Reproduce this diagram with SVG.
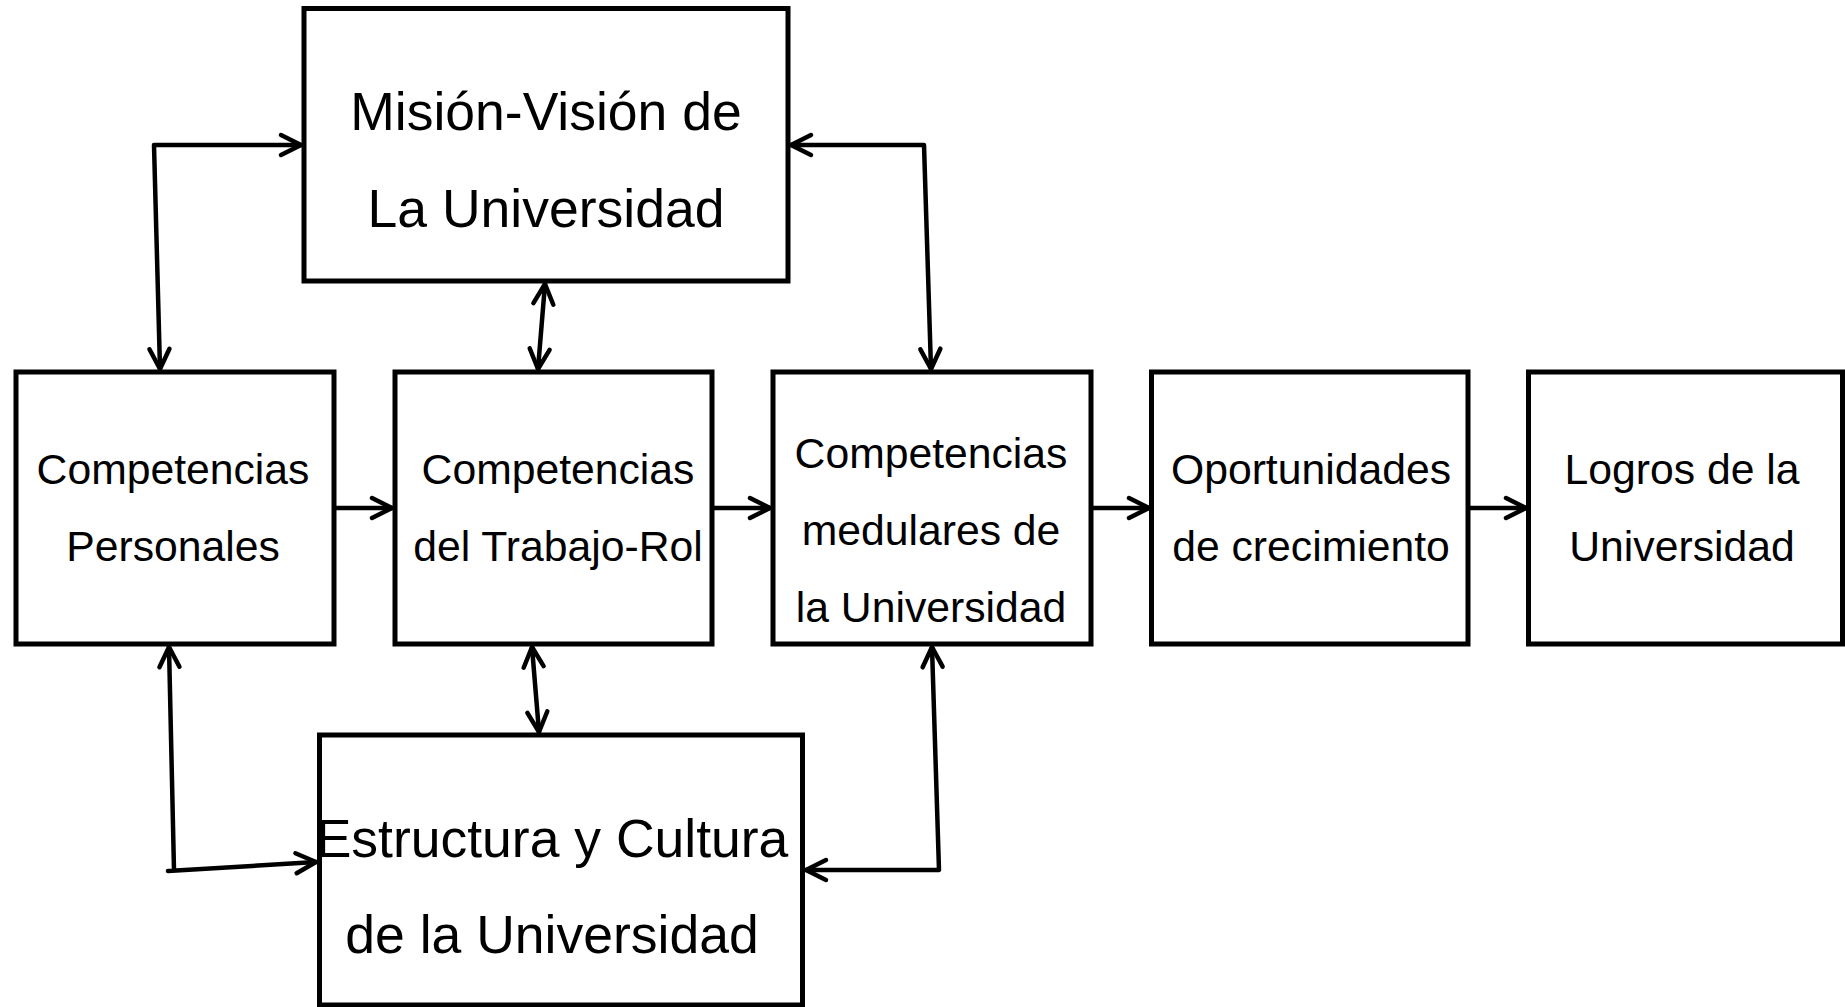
<svg xmlns="http://www.w3.org/2000/svg" width="1845" height="1007" viewBox="0 0 1845 1007">
<style>
.box{fill:#fff;stroke:#000;stroke-width:5}
.t{font-family:"Liberation Sans",Arial,sans-serif;fill:#000;text-anchor:middle}
.big{font-size:53.5px}
.sm{font-size:42.7px}
.c{fill:none;stroke:#000;stroke-width:4.5;stroke-linecap:round;stroke-linejoin:round}
</style>
<defs>
<marker id="ah" markerUnits="userSpaceOnUse" markerWidth="30" markerHeight="30" refX="0" refY="0" orient="auto-start-reverse" overflow="visible">
<path d="M-20,-10 L0,0 L-20,10" fill="none" stroke="#000" stroke-width="4.5" stroke-linecap="round" stroke-linejoin="round"/>
</marker>
</defs>
<rect width="1845" height="1007" fill="#fff"/>
<g id="connectors">
<path class="c" d="M334,508 L392,508" marker-end="url(#ah)"/>
<path class="c" d="M712,508 L770,508" marker-end="url(#ah)"/>
<path class="c" d="M1091,508 L1149,508" marker-end="url(#ah)"/>
<path class="c" d="M1468,508 L1526,508" marker-end="url(#ah)"/>
<path class="c" d="M160,369 L154,145 L301,145" marker-start="url(#ah)" marker-end="url(#ah)"/>
<path class="c" d="M545,284 L538,369" marker-start="url(#ah)" marker-end="url(#ah)"/>
<path class="c" d="M931,369 L924,145 L791,145" marker-start="url(#ah)" marker-end="url(#ah)"/>
<path class="c" d="M169,647 L174,870 M168,871 L316,862" marker-start="url(#ah)" marker-end="url(#ah)"/>
<path class="c" d="M532,647 L539,732" marker-start="url(#ah)" marker-end="url(#ah)"/>
<path class="c" d="M932,647 L939,870 L806,870" marker-start="url(#ah)" marker-end="url(#ah)"/>
</g>
<g id="mision">
<rect class="box" x="304" y="8.5" width="484" height="272.5"/>
<text class="t big" x="546" y="130">Misión-Visión de</text>
<text class="t big" x="546" y="227">La Universidad</text>
</g>
<g id="personales">
<rect class="box" x="16" y="372" width="318" height="272"/>
<text class="t sm" x="173" y="484">Competencias</text>
<text class="t sm" x="173" y="561">Personales</text>
</g>
<g id="trabajo">
<rect class="box" x="395" y="372" width="317" height="272"/>
<text class="t sm" x="558" y="484">Competencias</text>
<text class="t sm" x="558" y="561">del Trabajo-Rol</text>
</g>
<g id="medulares">
<rect class="box" x="773" y="372" width="318" height="272"/>
<text class="t sm" x="931" y="468">Competencias</text>
<text class="t sm" x="931" y="545">medulares de</text>
<text class="t sm" x="931" y="622">la Universidad</text>
</g>
<g id="oportunidades">
<rect class="box" x="1151.5" y="372" width="316.5" height="272"/>
<text class="t sm" x="1311" y="484">Oportunidades</text>
<text class="t sm" x="1311" y="561">de crecimiento</text>
</g>
<g id="logros">
<rect class="box" x="1528.5" y="372" width="314" height="272"/>
<text class="t sm" x="1682" y="484">Logros de la</text>
<text class="t sm" x="1682" y="561">Universidad</text>
</g>
<g id="estructura">
<rect class="box" x="319.5" y="735" width="483" height="270"/>
<text class="t big" x="552" y="857">Estructura y Cultura</text>
<text class="t big" x="552" y="953">de la Universidad</text>
</g>
</svg>
